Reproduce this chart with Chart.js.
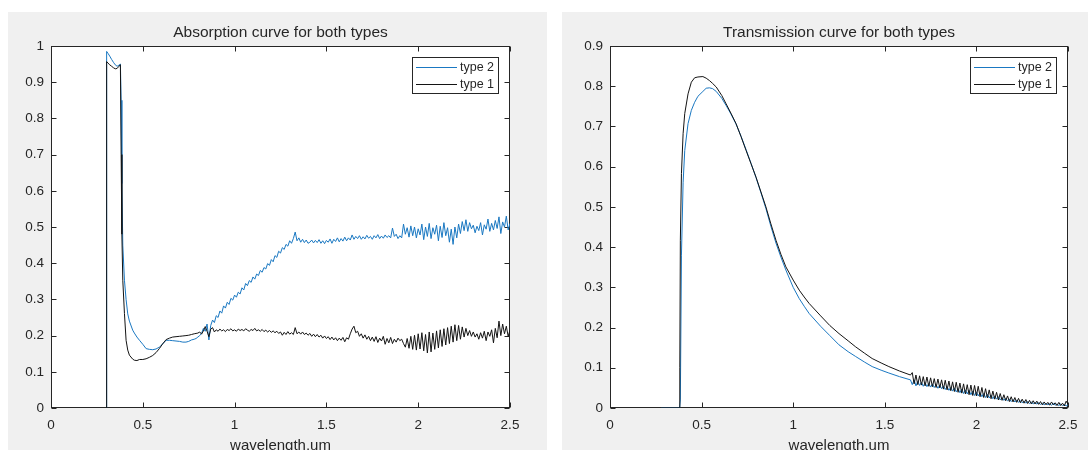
<!DOCTYPE html>
<html><head><meta charset="utf-8">
<script src="https://cdn.jsdelivr.net/npm/chart.js@4.4.1/dist/chart.umd.min.js"></script>
<style>
html,body{margin:0;padding:0;background:#ffffff;overflow:hidden;width:1088px;height:450px;}
.panel{position:absolute;background:#f0f0f0;}
#p1{left:8px;top:12px;width:539px;height:438px;}
#p2{left:562px;top:12px;width:526px;height:438px;}
.cv{position:absolute;top:0;width:544px;height:470px;}
</style></head><body>
<div class="panel" id="p1"></div><div class="panel" id="p2"></div>
<canvas id="c1" class="cv" style="left:0px" width="544" height="470"></canvas>
<canvas id="c2" class="cv" style="left:544px" width="544" height="470"></canvas>
<script>
// ---------- DATA ----------
const seriesLabels = ['type 2', 'type 1'];
const xTickStep = 0.5;

// Absorption: shared wavelength grid (um)
const absWavelength = [0.300,0.301,0.305,0.31,0.32,0.33,0.34,0.35,0.36,0.37,0.378,0.382,0.386,0.391,0.40,0.409,0.418,0.427,0.445,0.454,0.468,0.482,0.50,0.518,0.536,0.554,0.572,0.59,0.608,0.627,0.645,0.663,0.681,0.70,0.718,0.735,0.75,0.765,0.78,0.79,
0.80,0.81,0.82,0.83,0.84,0.85,0.86,0.87,0.88,0.89,0.90,0.91,0.92,0.93,0.94,0.95,0.96,0.97,0.98,0.99,
1.00,1.01,1.02,1.03,1.04,1.05,1.06,1.07,1.08,1.09,1.10,1.11,1.12,1.13,1.14,1.15,1.16,1.17,1.18,1.19,
1.20,1.21,1.22,1.23,1.24,1.25,1.26,1.27,1.28,1.29,1.30,1.31,1.32,1.33,1.34,1.35,1.36,1.37,1.38,1.39,
1.40,1.41,1.42,1.43,1.44,1.45,1.46,1.47,1.48,1.49,1.50,1.51,1.52,1.53,1.54,1.55,1.56,1.57,1.58,1.59,
1.60,1.61,1.62,1.63,1.64,1.65,1.66,1.67,1.68,1.69,1.70,1.71,1.72,1.73,1.74,1.75,1.76,1.77,1.78,1.79,
1.80,1.81,1.82,1.83,1.84,1.85,1.86,1.87,1.88,1.89,1.90,1.91,1.92,1.93,1.94,1.95,1.96,1.97,1.98,1.99,
2.00,2.01,2.02,2.03,2.04,2.05,2.06,2.07,2.08,2.09,2.10,2.11,2.12,2.13,2.14,2.15,2.16,2.17,2.18,2.19,
2.20,2.21,2.22,2.23,2.24,2.25,2.26,2.27,2.28,2.29,2.30,2.31,2.32,2.33,2.34,2.35,2.36,2.37,2.38,2.39,
2.40,2.41,2.42,2.43,2.44,2.45,2.46,2.47,2.48,2.49,2.50];

const absType1 = [0,0.955,0.957,0.953,0.948,0.944,0.940,0.937,0.938,0.944,0.948,0.700,0.480,0.353,0.261,0.187,0.160,0.146,0.135,0.132,0.131,0.134,0.134,0.136,0.140,0.145,0.153,0.164,0.177,0.189,0.193,0.196,0.197,0.198,0.199,0.200,0.201,0.203,0.205,0.206,
0.207,0.210,0.204,0.213,0.225,0.212,0.197,0.218,0.222,0.210,0.216,0.212,0.218,0.213,0.216,0.211,0.217,0.214,0.219,0.213,
0.216,0.212,0.218,0.214,0.217,0.213,0.219,0.215,0.212,0.217,0.214,0.220,0.213,0.216,0.212,0.217,0.211,0.215,0.210,0.214,
0.209,0.213,0.208,0.212,0.206,0.210,0.201,0.209,0.203,0.211,0.204,0.208,0.203,0.222,0.205,0.210,0.204,0.210,0.203,0.207,
0.201,0.206,0.198,0.204,0.197,0.203,0.196,0.201,0.193,0.199,0.192,0.197,0.189,0.196,0.188,0.194,0.186,0.193,0.187,0.195,
0.183,0.194,0.190,0.205,0.218,0.226,0.208,0.212,0.198,0.205,0.193,0.202,0.190,0.198,0.186,0.196,0.184,0.197,0.181,0.193,
0.185,0.198,0.176,0.192,0.180,0.195,0.178,0.190,0.182,0.193,0.186,0.190,0.178,0.168,0.192,0.165,0.198,0.162,0.201,0.160,
0.205,0.163,0.208,0.158,0.203,0.152,0.210,0.155,0.207,0.162,0.213,0.166,0.216,0.170,0.219,0.174,0.222,0.178,0.226,0.182,
0.230,0.186,0.228,0.190,0.224,0.196,0.220,0.200,0.214,0.198,0.210,0.196,0.205,0.190,0.208,0.193,0.212,0.186,0.210,0.198,
0.216,0.180,0.220,0.194,0.240,0.200,0.232,0.205,0.226,0.198,0.215];

const absType2 = [0,0.950,0.985,0.980,0.972,0.963,0.955,0.948,0.944,0.947,0.950,0.850,0.620,0.450,0.353,0.300,0.260,0.240,0.215,0.207,0.196,0.187,0.176,0.164,0.162,0.161,0.163,0.168,0.177,0.187,0.187,0.186,0.185,0.184,0.182,0.182,0.184,0.188,0.190,0.192,
0.196,0.200,0.206,0.220,0.212,0.232,0.188,0.228,0.243,0.236,0.255,0.250,0.268,0.262,0.282,0.276,0.292,0.286,0.303,0.298,
0.312,0.306,0.320,0.315,0.332,0.326,0.344,0.338,0.352,0.347,0.362,0.356,0.370,0.366,0.380,0.375,0.388,0.384,0.399,0.394,
0.410,0.404,0.421,0.416,0.433,0.428,0.443,0.438,0.452,0.447,0.462,0.455,0.468,0.486,0.462,0.470,0.458,0.466,0.457,0.464,
0.455,0.458,0.464,0.456,0.463,0.457,0.465,0.455,0.462,0.454,0.463,0.458,0.467,0.455,0.466,0.460,0.470,0.459,0.468,0.461,
0.472,0.462,0.470,0.464,0.478,0.466,0.474,0.468,0.476,0.466,0.473,0.467,0.477,0.469,0.474,0.466,0.476,0.470,0.479,0.468,
0.475,0.469,0.478,0.471,0.476,0.470,0.497,0.474,0.480,0.468,0.476,0.470,0.508,0.480,0.498,0.472,0.503,0.476,0.500,0.470,
0.495,0.478,0.508,0.465,0.500,0.474,0.510,0.468,0.498,0.480,0.505,0.462,0.502,0.471,0.512,0.476,0.498,0.458,0.494,0.452,
0.500,0.470,0.508,0.482,0.515,0.490,0.520,0.488,0.512,0.495,0.505,0.484,0.502,0.490,0.512,0.478,0.506,0.494,0.522,0.488,
0.510,0.492,0.518,0.496,0.528,0.482,0.514,0.500,0.530,0.492,0.510];

// Transmission: shared wavelength grid (um)
const trWavelength = [0.28,0.38,0.381,0.384,0.39,0.399,0.408,0.426,0.444,0.462,0.48,0.507,0.525,0.543,0.56,0.58,0.61,0.634,0.66,0.688,0.715,0.743,0.77,0.797,0.824,0.851,0.878,0.906,0.933,0.96,1.0,1.033,1.06,1.087,1.15,1.2,1.25,1.3,1.341,1.39,1.431,1.48,1.522,1.58,1.64,
1.65,1.66,1.67,1.68,1.69,1.70,1.71,1.72,1.73,1.74,1.75,1.76,1.77,1.78,1.79,
1.80,1.81,1.82,1.83,1.84,1.85,1.86,1.87,1.88,1.89,1.90,1.91,1.92,1.93,1.94,1.95,1.96,1.97,1.98,1.99,
2.00,2.01,2.02,2.03,2.04,2.05,2.06,2.07,2.08,2.09,2.10,2.11,2.12,2.13,2.14,2.15,2.16,2.17,2.18,2.19,
2.20,2.21,2.22,2.23,2.24,2.25,2.26,2.27,2.28,2.29,2.30,2.31,2.32,2.33,2.34,2.35,2.36,2.37,2.38,2.39,
2.40,2.41,2.42,2.43,2.44,2.45,2.46,2.47,2.48,2.49,2.50];

const trType1 = [0,0,0.1,0.417,0.583,0.682,0.732,0.781,0.81,0.821,0.823,0.824,0.82,0.814,0.807,0.798,0.777,0.756,0.733,0.707,0.675,0.64,0.607,0.574,0.537,0.5,0.458,0.417,0.382,0.351,0.318,0.293,0.276,0.26,0.229,0.205,0.185,0.167,0.152,0.136,0.123,0.112,0.103,0.092,0.082,
0.088,0.060,0.082,0.058,0.080,0.057,0.078,0.055,0.077,0.054,0.075,0.053,0.073,0.051,0.072,
0.050,0.070,0.047,0.069,0.045,0.067,0.043,0.065,0.041,0.064,0.039,0.062,0.037,0.060,0.035,0.058,0.033,0.057,0.031,0.056,
0.030,0.054,0.028,0.051,0.026,0.048,0.025,0.045,0.023,0.042,0.022,0.039,0.020,0.036,0.019,0.033,0.018,0.030,0.016,0.028,
0.015,0.026,0.014,0.024,0.013,0.022,0.012,0.021,0.011,0.019,0.010,0.018,0.010,0.017,0.009,0.016,0.008,0.015,0.008,0.014,
0.007,0.015,0.008,0.013,0.006,0.014,0.006,0.012,0.005,0.017,0.009];

const trType2 = [0,0,0,0.02,0.38,0.56,0.64,0.707,0.74,0.76,0.775,0.787,0.795,0.796,0.794,0.787,0.770,0.752,0.731,0.706,0.676,0.642,0.608,0.573,0.535,0.496,0.452,0.410,0.375,0.343,0.300,0.272,0.253,0.235,0.203,0.180,0.157,0.140,0.128,0.114,0.103,0.094,0.087,0.078,0.070,
0.058,0.070,0.055,0.066,0.056,0.064,0.054,0.063,0.053,0.061,0.052,0.060,0.051,0.058,0.049,
0.057,0.048,0.055,0.046,0.053,0.044,0.051,0.042,0.050,0.040,0.048,0.038,0.047,0.036,0.045,0.035,0.044,0.033,0.042,0.031,
0.040,0.030,0.038,0.028,0.036,0.026,0.034,0.025,0.032,0.023,0.030,0.022,0.028,0.020,0.026,0.019,0.024,0.018,0.022,0.016,
0.021,0.015,0.020,0.014,0.018,0.013,0.017,0.012,0.016,0.011,0.015,0.010,0.014,0.010,0.013,0.009,0.012,0.008,0.012,0.008,
0.011,0.007,0.011,0.007,0.010,0.006,0.010,0.006,0.009,0.005,0.008];

// ---------- STYLE / HELPERS ----------
const FONT = "'Liberation Sans', Arial, Helvetica, sans-serif";
const TXT = '#262626';
const BLUE = '#1a78c2';
const BLACK = '#141414';

function pts(xs, ys) { return xs.map((x, i) => ({ x: x, y: ys[i] })); }
function fmt(v) { return String(Number(v.toFixed(1))); }

const areaBg = {
  id: 'areaBg',
  beforeDraw(chart) {
    const a = chart.chartArea, ctx = chart.ctx;
    ctx.save(); ctx.fillStyle = '#ffffff';
    ctx.fillRect(a.left, a.top, a.right - a.left, a.bottom - a.top);
    ctx.restore();
  }
};

const boxTicks = {
  id: 'boxTicks',
  beforeDatasetsDraw(chart) {
    const a = chart.chartArea, ctx = chart.ctx;
    const xs = chart.scales.x, ys = chart.scales.y;
    const L = Math.round(a.left) + 0.5, R = Math.round(a.right) - 0.5;
    const T = Math.round(a.top) + 0.5, B = Math.round(a.bottom) - 0.5;
    const tl = 5;
    ctx.save();
    ctx.strokeStyle = TXT; ctx.lineWidth = 1;
    ctx.beginPath();
    xs.ticks.forEach(t => {
      const px = Math.round(xs.getPixelForValue(t.value)) + 0.5;
      ctx.moveTo(px, B); ctx.lineTo(px, B - tl);
      ctx.moveTo(px, T); ctx.lineTo(px, T + tl);
    });
    ys.ticks.forEach(t => {
      const py = Math.round(ys.getPixelForValue(t.value)) + 0.5;
      ctx.moveTo(L, py); ctx.lineTo(L + tl, py);
      ctx.moveTo(R, py); ctx.lineTo(R - tl, py);
    });
    ctx.stroke();
    ctx.strokeRect(L, T, R - L, B - T);
    ctx.restore();
  }
};

const boxLegend = {
  id: 'boxLegend',
  afterDraw(chart) {
    const a = chart.chartArea, ctx = chart.ctx;
    const w = 87, h = 37, inset = 11;
    const x = Math.round(a.right - inset - w), y = Math.round(a.top + inset);
    ctx.save();
    ctx.fillStyle = '#ffffff'; ctx.fillRect(x, y, w, h);
    ctx.strokeStyle = TXT; ctx.lineWidth = 1;
    ctx.strokeRect(x + 0.5, y + 0.5, w - 1, h - 1);
    const rows = [10, 27];
    ctx.font = '12.5px ' + FONT;
    ctx.textBaseline = 'middle'; ctx.textAlign = 'left';
    seriesLabels.forEach((lab, i) => {
      const ds = chart.data.datasets.find(d => d.label === lab);
      const ry = y + rows[i] + 0.5;
      ctx.strokeStyle = ds.borderColor; ctx.lineWidth = 1;
      ctx.beginPath(); ctx.moveTo(x + 4, ry); ctx.lineTo(x + 45, ry); ctx.stroke();
      ctx.fillStyle = TXT; ctx.fillText(lab, x + 48, ry);
    });
    ctx.restore();
  }
};

function makeChart(id, title, xs, y1, y2, yMax, yAxisWidth, padRight) {
  return new Chart(document.getElementById(id), {
    type: 'line',
    data: {
      datasets: [
        { label: 'type 1', data: pts(xs, y1), borderColor: BLACK, borderWidth: 1, pointRadius: 0, tension: 0, order: 0 },
        { label: 'type 2', data: pts(xs, y2), borderColor: BLUE, borderWidth: 1, pointRadius: 0, tension: 0, order: 1 }
      ]
    },
    options: {
      responsive: false, animation: false, devicePixelRatio: 1,
      layout: { padding: { left: 0, right: padRight, top: 0, bottom: 0 } },
      plugins: {
        legend: { display: false }, tooltip: { enabled: false },
        title: { display: true, text: title, color: TXT, fullSize: false,
                 font: { family: FONT, size: 15.5, weight: 'normal', lineHeight: 1.2 },
                 padding: { top: 23, bottom: 4.4 } }
      },
      scales: {
        x: { type: 'linear', min: 0, max: 2.5,
             ticks: { stepSize: xTickStep, color: TXT, padding: 9, font: { family: FONT, size: 13.5 }, maxRotation: 0,
                      callback: (v) => fmt(v) },
             grid: { display: false, drawTicks: false }, border: { display: false },
             title: { display: true, text: 'wavelength,um', color: TXT, font: { family: FONT, size: 15, lineHeight: 1.2 }, padding: { top: 0, bottom: 15 } },
             afterFit(s) { s.height = 62; } },
        y: { type: 'linear', min: 0, max: yMax,
             ticks: { stepSize: 0.1, color: TXT, padding: 7, font: { family: FONT, size: 13.5 },
                      callback: (v) => fmt(v) },
             grid: { display: false, drawTicks: false }, border: { display: false },
             afterFit(s) { s.width = yAxisWidth; } }
      }
    },
    plugins: [areaBg, boxTicks, boxLegend]
  });
}

makeChart('c1', 'Absorption curve for both types', absWavelength, absType1, absType2, 1, 51, 34);
makeChart('c2', 'Transmission curve for both types', trWavelength, trType1, trType2, 0.9, 66, 20);
</script>
</body></html>
